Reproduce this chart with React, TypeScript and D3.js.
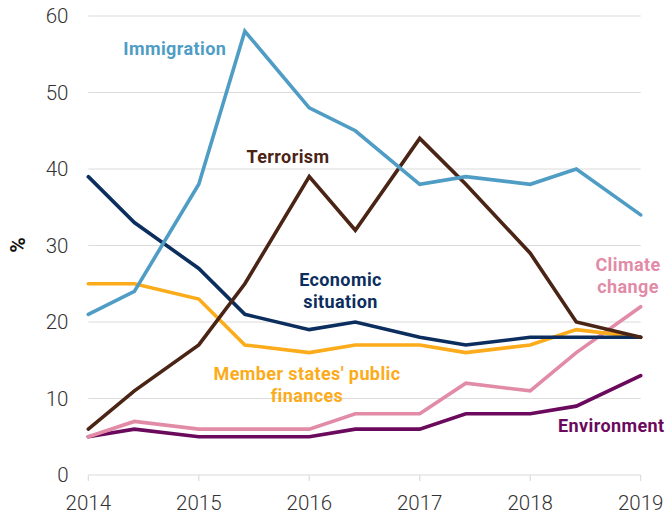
import React from "react";
import * as d3 from "d3";

const periods: number[] = [2014, 2014.417, 2015, 2015.417, 2016, 2016.417, 2017, 2017.417, 2018, 2018.417, 2019];
const immigration: number[] = [21, 24, 38, 58, 48, 45, 38, 39, 38, 40, 34];
const terrorism: number[] = [6, 11, 17, 25, 39, 32, 44, 38, 29, 20, 18];
const economic: number[] = [39, 33, 27, 21, 19, 20, 18, 17, 18, 18, 18];
const finances: number[] = [25, 25, 23, 17, 16, 17, 17, 16, 17, 19, 18];
const climate: number[] = [5, 7, 6, 6, 6, 8, 8, 12, 11, 16, 22];
const environment: number[] = [5, 6, 5, 5, 5, 6, 6, 8, 8, 9, 13];
const yTicks: number[] = [0, 10, 20, 30, 40, 50, 60];
const xTicks: number[] = [2014, 2015, 2016, 2017, 2018, 2019];

const W = 668, H = 514;
const x = d3.scaleLinear().domain([2014, 2019]).range([88.3, 640.7]);
const y = d3.scaleLinear().domain([0, 60]).range([475, 16]);

const series = [
  { name: "Environment", values: environment, color: "#6b0a5c" },
  { name: "Climate change", values: climate, color: "#e28ba7" },
  { name: "Member states' public finances", values: finances, color: "#fcab1a" },
  { name: "Economic situation", values: economic, color: "#0b2e5e" },
  { name: "Terrorism", values: terrorism, color: "#4a2414" },
  { name: "Immigration", values: immigration, color: "#4f9dc5" },
];

const labels = [
  { lines: ["Immigration"], color: "#4f9dc5", x: 123.3, y: 55, anchor: "start" },
  { lines: ["Terrorism"], color: "#4a2414", x: 246.5, y: 163.3, anchor: "start" },
  { lines: ["Economic", "situation"], color: "#0b2e5e", x: 340.5, y: 286, anchor: "middle" },
  { lines: ["Member states' public", "finances"], color: "#fcab1a", x: 307, y: 380, anchor: "middle" },
  { lines: ["Climate", "change"], color: "#e28ba7", x: 628, y: 271, anchor: "middle" },
  { lines: ["Environment"], color: "#6b0a5c", x: 558, y: 431.7, anchor: "start" },
];

export default function App() {
  const line = d3
    .line<number>()
    .x((_, i) => x(periods[i]))
    .y((d) => y(d));
  const font = "Roboto, 'Noto Sans', sans-serif";
  return (
    <svg width={W} height={H} style={{ position: "absolute", left: 0, top: 0 }}>
      <rect width={W} height={H} fill="#fff" />
      {yTicks.map((t) => (
        <g key={t}>
          <line x1={x(2014)} x2={x(2019)} y1={y(t)} y2={y(t)} stroke="#dcdcdc" strokeWidth={1.2} />
          <text x={68.5} y={y(t)} dy="0.35em" textAnchor="end" fontFamily={font} fontWeight={300} fontSize={20.5} fill="#333">
            {t}
          </text>
        </g>
      ))}
      {xTicks.map((t) => (
        <g key={t}>
          <line x1={x(t)} x2={x(t)} y1={y(0)} y2={y(0) + 6} stroke="#dcdcdc" strokeWidth={1.2} />
          <text x={x(t)} y={510} textAnchor="middle" fontFamily={font} fontWeight={300} fontSize={20.5} fill="#333">
            {t}
          </text>
        </g>
      ))}
      <text
        transform={`translate(25,245) rotate(-90)`}
        textAnchor="middle"
        fontFamily={font}
        fontWeight={700}
        fontSize={21}
        fill="#111"
      >
        %
      </text>
      {series.map((s) => (
        <path
          key={s.name}
          d={line(s.values) || ""}
          fill="none"
          stroke={s.color}
          strokeWidth={3.6}
          strokeLinejoin="miter"
          strokeLinecap="round"
        />
      ))}
      {labels.map((l, i) => (
        <text key={i} x={l.x} y={l.y} textAnchor={l.anchor as any} fontFamily={font} fontWeight={700} fontSize={18} letterSpacing={0.4} fill={l.color}>
          {l.lines.map((ln, j) => (
            <tspan key={j} x={l.x} dy={j === 0 ? 0 : 22}>
              {ln}
            </tspan>
          ))}
        </text>
      ))}
    </svg>
  );
}
